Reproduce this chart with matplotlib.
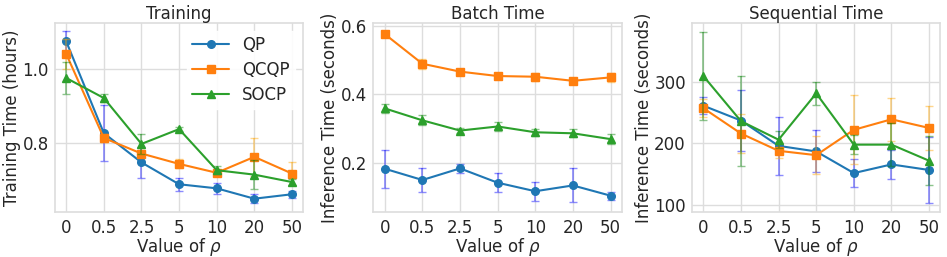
import matplotlib
matplotlib.use("Agg")
import matplotlib.pyplot as plt
import seaborn as sns
import numpy as np

sns.set_style("whitegrid")
plt.rcParams['font.family'] = ['DejaVu Sans']

rho_labels = ["0", "0.5", "2.5", "5", "10", "20", "50"]
methods = ["QP", "QCQP", "SOCP"]

# Training time (hours)
train_qp = [1.075, 0.827, 0.748, 0.689, 0.678, 0.650, 0.662]
train_qp_err = [0.027, 0.076, 0.043, 0.018, 0.015, 0.012, 0.010]
train_qcqp = [1.041, 0.814, 0.772, 0.744, 0.720, 0.763, 0.718]
train_qcqp_err = [0.040, 0.010, 0.010, 0.012, 0.005, 0.052, 0.030]
train_socp = [0.976, 0.922, 0.798, 0.838, 0.727, 0.715, 0.695]
train_socp_err = [0.043, 0.012, 0.027, 0.006, 0.010, 0.040, 0.008]

# Batch inference time (seconds)
batch_qp = [0.182, 0.149, 0.183, 0.141, 0.116, 0.133, 0.103]
batch_qp_err = [0.056, 0.034, 0.013, 0.028, 0.028, 0.050, 0.012]
batch_qcqp = [0.577, 0.490, 0.467, 0.454, 0.452, 0.440, 0.450]
batch_qcqp_err = [0.008, 0.014, 0.008, 0.008, 0.012, 0.008, 0.013]
batch_socp = [0.359, 0.324, 0.294, 0.306, 0.289, 0.286, 0.269]
batch_socp_err = [0.012, 0.015, 0.008, 0.013, 0.010, 0.012, 0.014]

# Sequential inference time (seconds)
seq_qp = [261, 237, 196, 187, 152, 166, 157]
seq_qp_err = [14, 50, 47, 34, 23, 23, 54]
seq_qcqp = [257, 216, 188, 181, 222, 239, 225]
seq_qcqp_err = [15, 32, 12, 31, 56, 35, 36]
seq_socp = [309, 236, 206, 281, 198, 198, 172]
seq_socp_err = [71, 73, 14, 19, 15, 35, 40]

panels = [
    ("Training", "Training Time (hours)",
     [(train_qp, train_qp_err), (train_qcqp, train_qcqp_err), (train_socp, train_socp_err)],
     (0.614, 1.125), [0.8, 1.0]),
    ("Batch Time", "Inference Time (seconds)",
     [(batch_qp, batch_qp_err), (batch_qcqp, batch_qcqp_err), (batch_socp, batch_socp_err)],
     (0.055, 0.61), [0.2, 0.4, 0.6]),
    ("Sequential Time", "Inference Time (seconds)",
     [(seq_qp, seq_qp_err), (seq_qcqp, seq_qcqp_err), (seq_socp, seq_socp_err)],
     (89, 395), [100, 200, 300]),
]

line_colors = ["tab:blue", "tab:orange", "tab:green"]
err_colors = ["blue", "orange", "green"]
markers = ["o", "s", "^"]

fig, axes = plt.subplots(1, 3, figsize=(9.47, 2.57), dpi=100)
fig.subplots_adjust(left=0.058, right=0.993, bottom=0.175, top=0.911, wspace=0.283)

x = np.arange(len(rho_labels))
for ax, (title, ylabel, series, ylim, yticks) in zip(axes, panels):
    for (vals, errs), lc, ec, mk, name in zip(series, line_colors, err_colors, markers, methods):
        ax.errorbar(x, vals, yerr=errs, fmt="none", ecolor=ec, alpha=0.45,
                    capsize=3, elinewidth=1.2, capthick=1)
        ax.plot(x, vals, color=lc, marker=mk, markersize=5.5, linewidth=1.5, label=name)
    ax.set_title(title, fontsize=12, pad=3)
    ax.set_ylabel(ylabel, fontsize=12, labelpad=1)
    ax.set_xlabel(r"Value of $\rho$", fontsize=12, labelpad=-1)
    ax.set_xticks(x)
    ax.set_xticklabels(rho_labels)
    ax.set_ylim(*ylim)
    ax.set_yticks(yticks)
    ax.tick_params(axis="x", labelsize=12, pad=1.5)
    ax.tick_params(axis="y", labelsize=12, pad=1)
    for s in ax.spines.values():
        s.set_color("#dddddd")
        s.set_linewidth(1.2)
    ax.grid(color="#dddddd", linewidth=1)

axes[0].legend(loc="upper right", fontsize=12, frameon=True, edgecolor="white",
               framealpha=0.9, handlelength=2.2, borderpad=0.3, labelspacing=0.4)

fig.savefig("out.png", dpi=100)
